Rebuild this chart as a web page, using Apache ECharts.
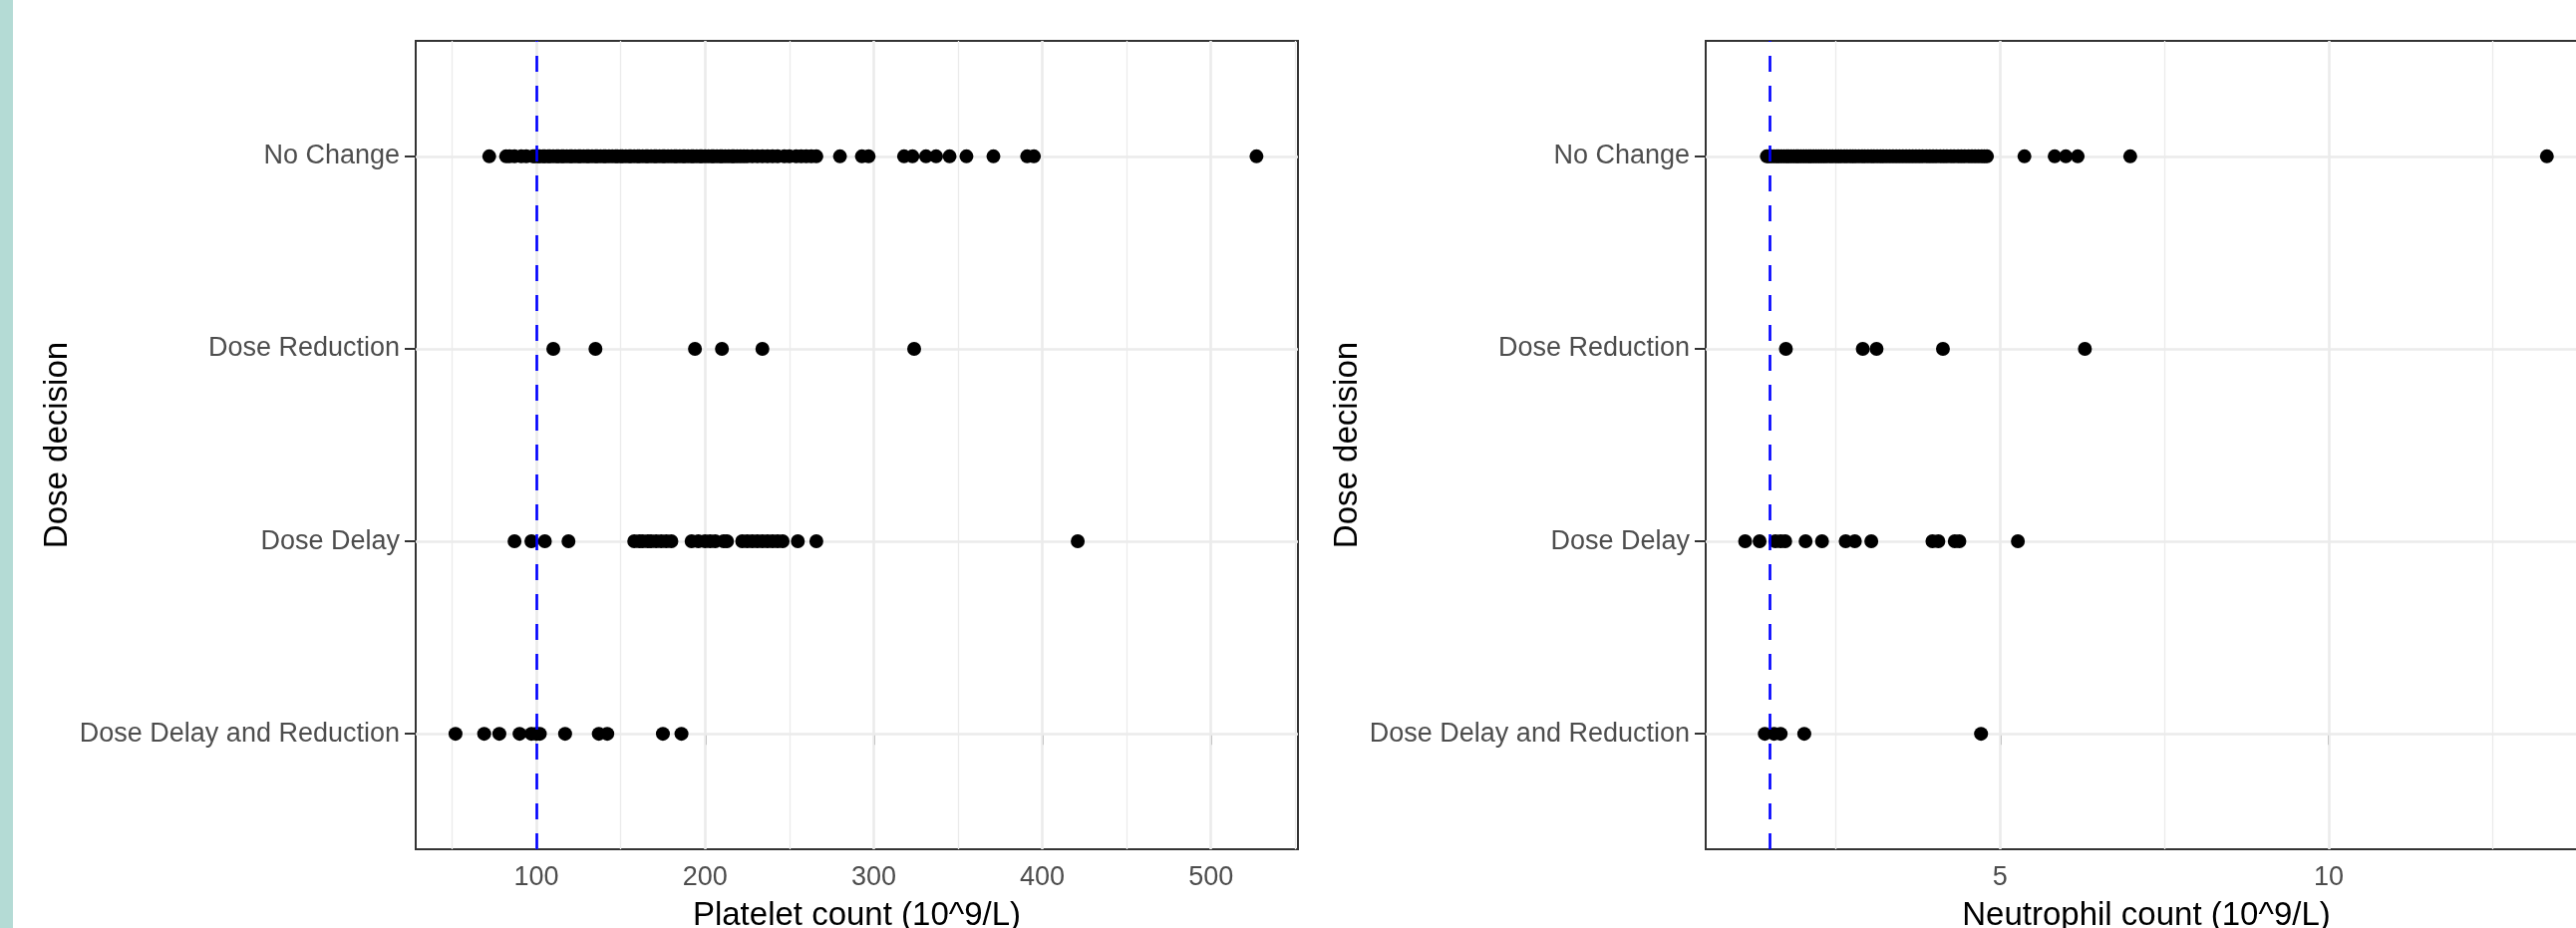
<!DOCTYPE html>
<html>
<head>
<meta charset="utf-8">
<script src="https://cdn.jsdelivr.net/npm/echarts@6/dist/echarts.min.js"></script>
<style>
  html, body { margin: 0; padding: 0; background: #fff; }
  #chart { width: 2584px; height: 931px; }
</style>
</head>
<body>
<div id="chart"></div>
<script>
// categories, bottom to top
var categories = ['Dose Delay and Reduction', 'Dose Delay', 'Dose Reduction', 'No Change'];

// platelet count (10^9/L) per decision
var plateletNoChange = [72, 82, 84, 87, 91, 94,
  98, 99, 101, 102, 104, 105, 107, 108, 110, 112, 113, 115, 116, 118, 120, 121, 123, 125, 126, 128,
  130, 131, 133, 135, 136, 138, 140, 141, 143, 145, 147, 148, 150, 151, 153, 155, 156, 158, 160, 161,
  163, 165, 166, 168, 170, 171, 173, 175, 176, 178, 180, 182, 183, 185, 187, 188, 190, 192, 193, 195,
  197, 198, 200, 202, 204, 205, 207, 209, 210, 212, 214, 216, 217, 219, 221, 223, 225, 228, 231, 234,
  237, 240, 243, 247, 250, 254, 257, 260, 263, 266,
  280, 293, 297, 318, 323, 331, 337, 345, 355, 371, 391, 395, 527];
var plateletReduction = [110, 135, 194, 210, 234, 324];
var plateletDelay = [87, 97, 105, 119, 158, 161, 163, 166, 168, 171, 174, 177, 180, 192, 196, 200, 203,
  206, 211, 213, 222, 225, 228, 231, 234, 237, 240, 243, 246, 255, 266, 421];
var plateletDelayReduction = [52, 69, 78, 90, 97, 100, 102, 117, 137, 142, 175, 186];

// neutrophil count (10^9/L) per decision
var neutroNoChange = [1.45, 1.48, 1.52, 1.56, 1.6, 1.63, 1.67, 1.71, 1.75, 1.78, 1.82, 1.86, 1.9, 1.93,
  1.97, 2.01, 2.05, 2.09, 2.12, 2.16, 2.2, 2.24, 2.28, 2.32, 2.36, 2.41, 2.45, 2.5, 2.54, 2.58, 2.63,
  2.67, 2.72, 2.76, 2.8, 2.85, 2.9, 2.94, 2.99, 3.04, 3.08, 3.13, 3.18, 3.22, 3.27, 3.32, 3.37, 3.42,
  3.47, 3.52, 3.57, 3.62, 3.67, 3.72, 3.77, 3.82, 3.88, 3.93, 3.98, 4.03, 4.09, 4.14, 4.19, 4.25, 4.3,
  4.36, 4.41, 4.46, 4.52, 4.57, 4.62, 4.67, 4.72, 4.76, 4.8,
  5.37, 5.83, 6.0, 6.18, 6.98, 13.32];
var neutroReduction = [1.74, 2.91, 3.12, 4.13, 6.29];
var neutroDelay = [1.12, 1.34, 1.58, 1.66, 1.73, 2.04, 2.29, 2.65, 2.79, 3.04, 3.97, 4.06, 4.31, 4.38, 5.27];
var neutroDelayReduction = [1.42, 1.56, 1.66, 2.02, 4.71];

// axis ticks and gridlines
var plateletTicks = [100, 200, 300, 400, 500];
var plateletMinor = [50, 150, 250, 350, 450, 550];
var neutroTicks = [5, 10];
var neutroMinor = [2.5, 7.5, 12.5];
var catTicks = [0, 1, 2, 3];

// thresholds
var plateletCut = 100;
var neutroCut = 1.5;

(function () {

    var plot = {
        init(){
            this.myChart = echarts.init(document.getElementById('chart'));
            this.font = '"Liberation Sans", Arial, sans-serif';
            var option = {
                animation: false,
                backgroundColor: '#fff',
                graphic: [{
                    type: 'rect',
                    shape: { x: 0, y: 0, width: 13, height: 931 },
                    style: { fill: '#b4dbd5' }
                }],
                grid: [
                    this.grid(417, 885),
                    this.grid(1711, 884)
                ],
                xAxis: [
                    this.xAxis(0, 28.4, 551.6, plateletTicks, 'Platelet count (10^9/L)'),
                    this.xAxis(1, 0.52, 13.93, neutroTicks, 'Neutrophil count (10^9/L)')
                ],
                yAxis: [
                    this.yAxis(0),
                    this.yAxis(1)
                ],
                series: [
                    this.gridLines(0, plateletTicks, plateletMinor),
                    this.gridLines(1, neutroTicks, neutroMinor),
                    this.points(0, [plateletDelayReduction, plateletDelay, plateletReduction, plateletNoChange]),
                    this.points(1, [neutroDelayReduction, neutroDelay, neutroReduction, neutroNoChange]),
                    this.cutLine(0, plateletCut),
                    this.cutLine(1, neutroCut)
                ]
            };
            this.myChart.setOption(option);
        },
        grid(left, width){
            // panel may run past the page edge, as in the original
            return {
                left: left, top: 41, width: width, height: 811,
                outerBoundsMode: 'none', containLabel: false,
                show: true, borderColor: '#333333', borderWidth: 2,
                backgroundColor: 'transparent'
            };
        },
        xAxis(idx, min, max, ticks, name){
            return {
                type: 'value', gridIndex: idx, min: min, max: max,
                axisLine: { show: false },
                axisTick: { show: true, length: 11, customValues: ticks, lineStyle: { color: '#333333', width: 2 } },
                axisLabel: { customValues: ticks, margin: 15, fontSize: 27, color: '#4D4D4D', fontFamily: this.font },
                splitLine: { show: false },
                name: name, nameLocation: 'middle', nameGap: 50,
                nameTextStyle: { fontSize: 33, color: '#000', fontFamily: this.font }
            };
        },
        yAxis(idx){
            return {
                type: 'value', gridIndex: idx, min: -0.6, max: 3.6,
                axisLine: { show: false },
                axisTick: { show: true, length: 11, customValues: catTicks, lineStyle: { color: '#333333', width: 2 } },
                axisLabel: {
                    customValues: catTicks, margin: 16, fontSize: 27, color: '#4D4D4D', fontFamily: this.font,
                    formatter: function (v) { return categories[Math.round(v)]; }
                },
                splitLine: { show: false },
                name: 'Dose decision', nameLocation: 'middle', nameRotate: 90, nameGap: 343,
                nameTextStyle: { fontSize: 33, color: '#000', fontFamily: this.font }
            };
        },
        gridLines(idx, major, minor){
            var lines = [];
            minor.forEach(function (v) {
                lines.push({ xAxis: v, lineStyle: { color: '#EBEBEB', width: 1.3, type: 'solid' } });
            });
            major.forEach(function (v) {
                lines.push({ xAxis: v, lineStyle: { color: '#EBEBEB', width: 2.6, type: 'solid' } });
            });
            catTicks.forEach(function (v) {
                lines.push({ yAxis: v, lineStyle: { color: '#EBEBEB', width: 2.6, type: 'solid' } });
            });
            return {
                type: 'scatter', xAxisIndex: idx, yAxisIndex: idx, data: [], z: 1, silent: true,
                markLine: {
                    z: 1, silent: true, symbol: ['none', 'none'], label: { show: false },
                    emphasis: { disabled: true }, animation: false, data: lines
                }
            };
        },
        points(idx, groups){
            var data = [];
            groups.forEach(function (list, cat) {
                list.forEach(function (v) { data.push([v, cat]); });
            });
            return {
                type: 'scatter', xAxisIndex: idx, yAxisIndex: idx, z: 4, silent: true,
                symbol: 'circle', symbolSize: 14,
                itemStyle: { color: '#000', opacity: 1 },
                data: data
            };
        },
        cutLine(idx, v){
            return {
                type: 'scatter', xAxisIndex: idx, yAxisIndex: idx, data: [], z: 8, silent: true,
                markLine: {
                    z: 8, silent: true, symbol: ['none', 'none'], label: { show: false },
                    emphasis: { disabled: true }, animation: false,
                    data: [{ xAxis: v, lineStyle: { color: '#0000FF', width: 2.6, type: [16, 14] } }]
                }
            };
        }
    };
    plot.init();
} ());
</script>
</body>
</html>
